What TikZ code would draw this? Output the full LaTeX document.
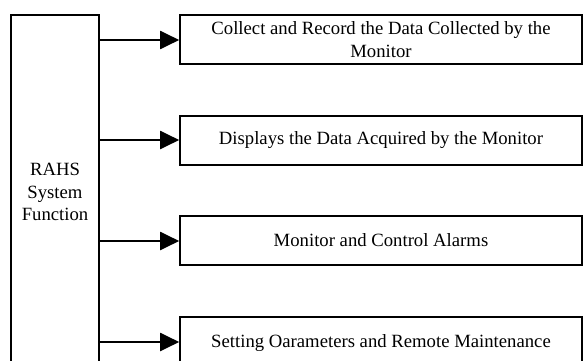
\documentclass[tikz,border=0pt]{standalone}
\usepackage{fontspec}
\setmainfont{Liberation Serif}
\usetikzlibrary{arrows.meta}
\begin{document}
\begin{tikzpicture}[x=1pt,y=-1pt,
  box/.style={draw, line width=1.6pt, rectangle, inner sep=0pt, align=center,
    font=\fontsize{18.7}{22.5}\selectfont},
  feed/.style={line width=2pt, -{Triangle[length=19pt,width=18pt]}}]
\useasboundingbox (0,0) rectangle (583,361);
\clip (0,0) rectangle (583,361);
% main function block on the left
\node[box, minimum width=88pt, minimum height=354pt] (sys) at (55,192) {RAHS\\System\\Function};
% function blocks on the right
\node[box, minimum width=402pt, minimum height=49pt] (f1) at (381,39.5) {Collect and Record the Data Collected by the\\Monitor};
\node[box, minimum width=402pt, minimum height=49pt] (f2) at (381,140.5) {Displays the Data Acquired by the Monitor};
\node[box, minimum width=402pt, minimum height=49pt] (f3) at (381,240.5) {Monitor and Control Alarms};
\node[box, minimum width=402pt, minimum height=53pt] (f4) at (381,343.5) {Setting Oarameters and Remote Maintenance};
% connectors
\draw[feed] (sys.east |- 0,40) -- (f1.west |- 0,40);
\draw[feed] (sys.east |- 0,140) -- (f2.west |- 0,140);
\draw[feed] (sys.east |- 0,241) -- (f3.west |- 0,241);
\draw[feed] (sys.east |- 0,342) -- (f4.west |- 0,342);
\end{tikzpicture}
\end{document}
